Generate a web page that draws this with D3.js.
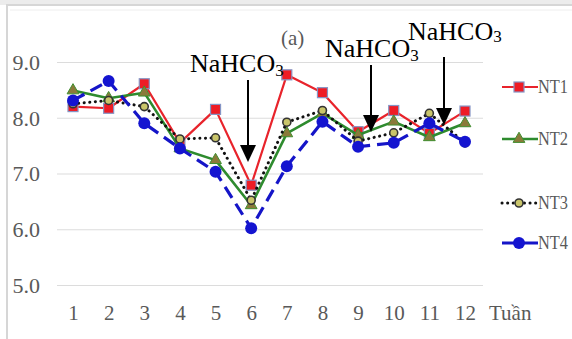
<!DOCTYPE html>
<html><head><meta charset="utf-8">
<script src="https://cdn.jsdelivr.net/npm/d3@7"></script>
<style>
body{margin:0;background:#fff;}
svg{display:block;}
svg text{font-family:"Liberation Serif","Times New Roman",serif;}
</style></head>
<body>
<svg id="c" width="572" height="339"></svg>
<script>
const weeks = [1,2,3,4,5,6,7,8,9,10,11,12];
const nt1 = [8.20,8.17,8.61,7.55,8.15,6.79,8.77,8.45,7.75,8.13,7.72,8.12];
const nt2 = [8.49,8.35,8.45,7.45,7.24,6.43,7.72,8.08,7.69,7.93,7.65,7.90];
const nt3 = [8.25,8.31,8.20,7.62,7.64,6.52,7.92,8.13,7.58,7.73,8.08,7.55];
const nt4 = [8.31,8.66,7.90,7.45,7.03,6.02,7.13,7.93,7.48,7.55,7.90,7.57];
const yTicks = [5,6,7,8,9];
const seriesNames = ["NT1","NT2","NT3","NT4"];
const annotations = [
  {week:6, value:6.79, label:"NaHCO"},
  {week:9, value:7.75, label:"NaHCO"},
  {week:11, value:7.72, label:"NaHCO"}
];

const FONT = "Liberation Serif, Times New Roman, serif";
const svg = d3.select("#c");
const x = d3.scalePoint().domain(weeks).range([73,465]);
const y = d3.scaleLinear().domain([5,9]).range([285,62]);
const gridL = 57, gridR = 483;

// frame
svg.append("rect").attr("x",0).attr("y",0).attr("width",572).attr("height",5).attr("fill","#ececec");
svg.append("rect").attr("x",7).attr("y",5).attr("width",600).attr("height",360)
  .attr("fill","none").attr("stroke","#d6d6d6").attr("stroke-width",2);
svg.append("line").attr("x1",10).attr("x2",572).attr("y1",10).attr("y2",10)
  .attr("stroke","#eeeeee").attr("stroke-width",1);

// y axis with gridlines
const ya = svg.append("g").attr("transform",`translate(${gridL},0)`)
  .call(d3.axisLeft(y).tickValues(yTicks).tickFormat(d3.format(".1f"))
    .tickSize(-(gridR-gridL)).tickPadding(17));
ya.attr("font-family",FONT);
ya.select(".domain").remove();
ya.selectAll(".tick line").attr("stroke","#dcdcdc").attr("stroke-width",1.2);
ya.selectAll(".tick text").attr("fill","#595959").attr("font-size",22)
  .attr("font-family",FONT).attr("dy","0.34em");

// x axis labels
const xa = svg.append("g").attr("transform","translate(0,285)")
  .call(d3.axisBottom(x).tickSize(0));
xa.attr("font-family",FONT);
xa.select(".domain").remove();
xa.selectAll(".tick text").attr("fill","#595959").attr("font-size",21)
  .attr("font-family",FONT).attr("y",35).attr("dy",null);
svg.append("text").attr("x",489).attr("y",320).attr("fill","#595959")
  .attr("font-family",FONT).attr("font-size",21).text("Tuần");

svg.append("text").attr("x",281).attr("y",45).attr("fill","#595959")
  .attr("font-family",FONT).attr("font-size",21).text("(a)");

const styles = {
  NT1:{data:nt1, color:"#e8232b", width:2.2, dash:null},
  NT2:{data:nt2, color:"#2e8b2e", width:2.6, dash:null},
  NT3:{data:nt3, color:"#111", width:3, dash:"0.1,5.5", cap:"round"},
  NT4:{data:nt4, color:"#1515c8", width:3.2, dash:"13,7"}
};
const line = d3.line().x((d,i)=>x(weeks[i])).y(d=>y(d));

function marker(g, name, cx, cy){
  if(name==="NT1"){
    g.append("rect").attr("x",cx-5).attr("y",cy-5).attr("width",10).attr("height",10)
      .attr("fill","#ee1c25").attr("stroke","#8595c5").attr("stroke-width",1.2);
  } else if(name==="NT2"){
    g.append("path").attr("d",d3.symbol(d3.symbolTriangle,60)())
      .attr("transform",`translate(${cx},${cy})`)
      .attr("fill","#8a7a3a").attr("stroke","#3f8f2f").attr("stroke-width",1);
  } else if(name==="NT3"){
    g.append("circle").attr("cx",cx).attr("cy",cy).attr("r",4)
      .attr("fill","#c9c56a").attr("stroke","#333").attr("stroke-width",1.6);
  } else {
    g.append("circle").attr("cx",cx).attr("cy",cy).attr("r",6)
      .attr("fill","#1414d0");
  }
}

const order = ["NT1","NT2","NT3","NT4"];
order.forEach(name=>{
  const s = styles[name];
  const g = svg.append("g");
  g.append("path").attr("d",line(s.data)).attr("fill","none")
    .attr("stroke",s.color).attr("stroke-width",s.width)
    .attr("stroke-dasharray",s.dash).attr("stroke-linecap",s.cap||"butt")
    .attr("stroke-linejoin","round");
  s.data.forEach((v,i)=>marker(g,name,x(weeks[i]),y(v)));
});

// legend
const legY = {NT1:87, NT2:139, NT3:203, NT4:243};
seriesNames.forEach(name=>{
  const s = styles[name];
  const g = svg.append("g");
  const ly = legY[name];
  g.append("line").attr("x1",502).attr("x2",538).attr("y1",ly).attr("y2",ly)
    .attr("stroke",s.color).attr("stroke-width",s.width)
    .attr("stroke-dasharray",name==="NT3"?"0.1,5.5":null)
    .attr("stroke-linecap",s.cap||"butt");
  marker(g,name,519,ly);
  g.append("text").attr("x",538).attr("y",ly+6).attr("fill","#595959")
    .attr("font-family",FONT).attr("font-size",18)
    .attr("textLength",30).attr("lengthAdjust","spacingAndGlyphs").text(name);
});

// annotations
const annPos = [
  {tx:190, ty:72, sy:76, ax:248, ay1:80, tip:162},
  {tx:325, ty:57, sy:61, ax:371, ay1:65, tip:132},
  {tx:408, ty:40, sy:42, ax:444, ay1:57, tip:125}
];
annotations.forEach((a,i)=>{
  const p = annPos[i];
  const t = svg.append("text").attr("x",p.tx).attr("y",p.ty).attr("fill","#000")
    .attr("font-family",FONT).attr("font-size",26);
  t.append("tspan").text(a.label);
  t.append("tspan").attr("font-size",17).attr("dy",p.sy-p.ty).text("3");
  svg.append("line").attr("x1",p.ax).attr("x2",p.ax).attr("y1",p.ay1).attr("y2",p.tip-14)
    .attr("stroke","#000").attr("stroke-width",2);
  svg.append("path").attr("d",`M${p.ax-8},${p.tip-17}L${p.ax+8},${p.tip-17}L${p.ax},${p.tip}Z`)
    .attr("fill","#000");
});
</script>
</body></html>
